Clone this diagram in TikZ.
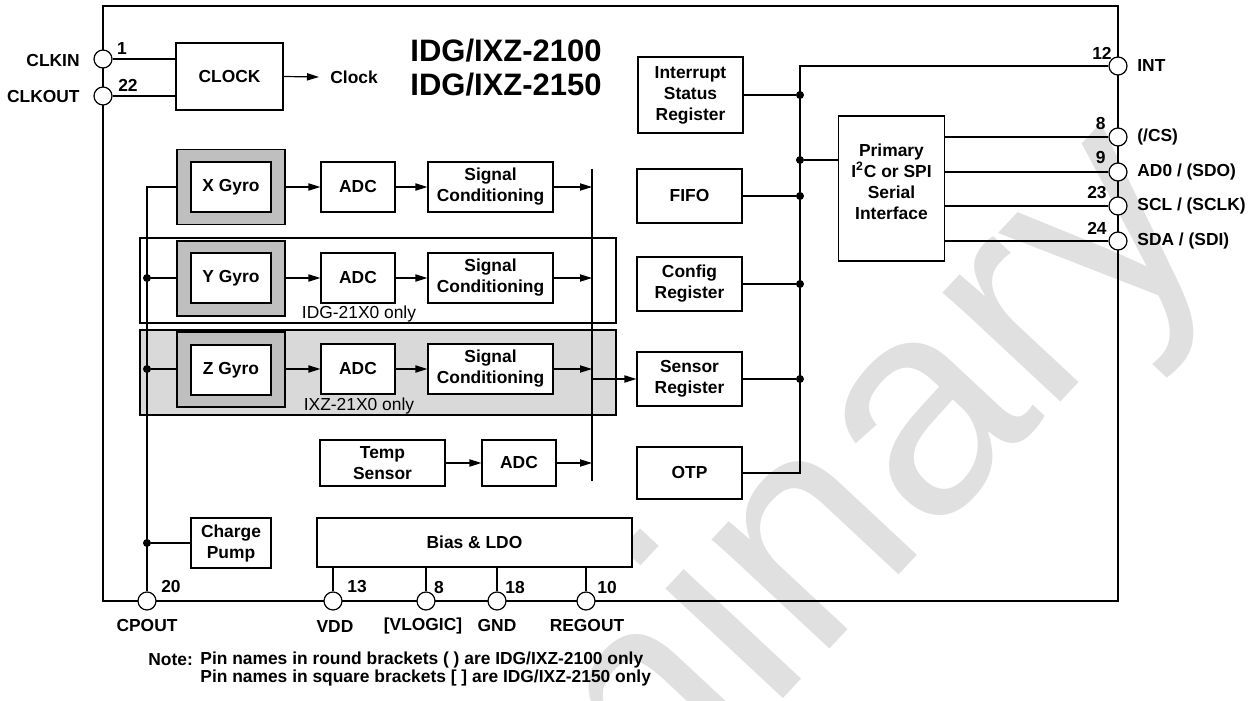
\documentclass[tikz,border=0pt]{standalone}
\usepackage{fontspec}
\setmainfont{Liberation Sans}
\usetikzlibrary{arrows.meta}
\begin{document}
\begin{tikzpicture}[x=0.5pt,y=-0.5pt,
  every node/.style={font=\fontsize{8.7}{10.5}\selectfont\bfseries, inner sep=0pt},
  ln/.style={line width=0.6pt},
  box/.style={draw, fill=white, line width=0.6pt, align=center},
  gyroout/.style={box, fill=black!25, minimum width=54pt, minimum height=37.5pt},
  gyroin/.style={box, minimum width=40pt, minimum height=25pt},
  adcbox/.style={box, minimum width=37pt, minimum height=25pt},
  scbox/.style={box, minimum width=62.5pt, minimum height=25pt},
  regbox/.style={box, minimum width=52.5pt, minimum height=27pt},
  arr/.style={ln, -{Triangle[length=6pt,width=3.6pt]}},
  pin/.style={draw, fill=white, circle, minimum size=9pt, line width=0.6pt},
  dot/.style={circle, fill=black, minimum size=4pt},
  plain/.style={font=\fontsize{8.7}{10.5}\selectfont},
]
\clip (0,0) rectangle (1254,701);
\fill[white] (0,0) rectangle (1254,701);
% watermark
\node[anchor=base west, rotate=47, text=black!12, font=\fontsize{152}{152}\selectfont] (wm) at (182,1344) {Preliminary};

% frame
\node[draw, line width=0.6pt, minimum width=507.5pt, minimum height=297.5pt] (frame) at (610.5,303.5) {};

% title
\node[align=center, font=\fontsize{15.5}{17}\selectfont\bfseries] (title) at (506,68) {IDG/IXZ-2100\\IDG/IXZ-2150};

% clock
\node[box, minimum width=53.5pt, minimum height=33.5pt] (clock) at (229.5,76.5) {CLOCK};
\node[anchor=west, inner xsep=5.5pt] (clocktxt) at (319,77) {Clock};
\draw[arr] (clock.east) -- (clocktxt.west);

% enclosures
\node[draw, line width=0.6pt, minimum width=238pt, minimum height=42.5pt] (yenc) at (378,280.5) {};
\node[draw, line width=0.6pt, fill=black!15, minimum width=238pt, minimum height=42.5pt] (zenc) at (378,372.5) {};
\node[plain] (ytxt) at (359,314) {IDG-21X0 only};
\node[plain] (ztxt) at (359,406) {IXZ-21X0 only};

% gyro rows
\node[gyroout] (xgo) at (231,187) {};
\node[gyroin] (xg) at (231,187) {X Gyro};
\node[adcbox] (xadc) at (358,187) {ADC};
\node[scbox] (xsc) at (490.5,187) {Signal\\Conditioning};

\node[gyroout] (ygo) at (231,278.5) {};
\node[gyroin] (yg) at (231,278) {Y Gyro};
\node[adcbox] (yadc) at (358,278) {ADC};
\node[scbox] (ysc) at (490.5,278) {Signal\\Conditioning};

\node[gyroout] (zgo) at (231,369.5) {};
\node[gyroin] (zg) at (231,370) {Z Gyro};
\node[adcbox] (zadc) at (358,369) {ADC};
\node[scbox] (zsc) at (490.5,369) {Signal\\Conditioning};

% temp
\node[box, minimum width=62.5pt, minimum height=23pt] (temp) at (382.5,463) {Temp\\Sensor};
\node[box, minimum width=37pt, minimum height=23pt] (tadc) at (519,463) {ADC};

% gyro bus
\coordinate (gbtop) at (592,169);
\coordinate (gbbot) at (592,481);
\draw[ln] (gbtop) -- (gbbot);

\draw[arr] (xgo.east) -- (xadc.west);
\draw[arr] (xadc.east) -- (xsc.west);
\draw[arr] (xsc.east) -- (xsc.east -| gbtop);
\draw[arr] (ygo.east |- yadc) -- (yadc.west);
\draw[arr] (yadc.east) -- (ysc.west);
\draw[arr] (ysc.east) -- (ysc.east -| gbtop);
\draw[arr] (zgo.east |- zadc) -- (zadc.west);
\draw[arr] (zadc.east) -- (zsc.west);
\draw[arr] (zsc.east) -- (zsc.east -| gbtop);
\draw[arr] (temp.east) -- (tadc.west);
\draw[arr] (tadc.east) -- (tadc.east -| gbtop);

% registers
\node[box, minimum width=52.5pt, minimum height=38pt] (intr) at (690.5,95) {Interrupt\\Status\\Register};
\node[regbox] (fifo) at (689.5,196) {FIFO};
\node[regbox] (config) at (689.5,284) {Config\\Register};
\node[regbox] (sensor) at (689.5,379) {Sensor\\Register};
\node[regbox, minimum height=26pt] (otp) at (689.5,473) {OTP};
\node[box, minimum width=53pt, minimum height=72.5pt] (prim) at (891.5,188.5) {};
\node[align=center] (primtxt) at (891.5,182) {Primary\\I\textsuperscript{2}C or SPI\\Serial\\Interface};

\coordinate (sbus) at (592,379);
\draw[arr] (sbus) -- (sensor.west);

% right pins
\node[pin] (int) at (1118,66) {};
\node[pin] (cs) at (1118,137) {};
\node[pin] (ad0) at (1118,172) {};
\node[pin] (scl) at (1118,206) {};
\node[pin] (sda) at (1118,241) {};

% right bus
\coordinate (rbtop) at (800,66);
\coordinate (rbbot) at (800,473);
\draw[ln] (int.west) -- (rbtop) -- (rbbot) -- (otp.east);
\node[dot] (d1) at (800,95) {};
\node[dot] (d2) at (800,160) {};
\node[dot] (d3) at (800,196) {};
\node[dot] (d4) at (800,284) {};
\node[dot] (d5) at (800,379) {};
\draw[ln] (intr.east) -- (d1);
\draw[ln] (d2) -- (d2 -| prim.west);
\draw[ln] (fifo.east) -- (d3);
\draw[ln] (config.east) -- (d4);
\draw[ln] (sensor.east) -- (d5);

\draw[ln] (cs.west -| prim.east) -- (cs.west);
\draw[ln] (ad0.west -| prim.east) -- (ad0.west);
\draw[ln] (scl.west -| prim.east) -- (scl.west);
\draw[ln] (sda.west -| prim.east) -- (sda.west);

\node[anchor=east] (n12) at (1112,53) {12};
\node[anchor=east] (n8r) at (1106,124) {8};
\node[anchor=east] (n9) at (1106,158) {9};
\node[anchor=east] (n23) at (1107,193) {23};
\node[anchor=east] (n24) at (1107,228) {24};
\node[anchor=west] (lint) at (1137,66) {INT};
\node[anchor=west] (lcs) at (1137,137) {(/CS)};
\node[anchor=west] (lad0) at (1137,172) {AD0 / (SDO)};
\node[anchor=west] (lscl) at (1137,206) {SCL / (SCLK)};
\node[anchor=west] (lsda) at (1137,241) {SDA / (SDI)};

% left pins
\node[pin] (clkin) at (103,59) {};
\node[pin] (clkout) at (103,96) {};
\draw[ln] (clkin.east) -- (clkin.east -| clock.west);
\draw[ln] (clkout.east) -- (clkout.east -| clock.west);
\node[anchor=east] (lclkin) at (80,61) {CLKIN};
\node[anchor=east] (lclkout) at (80,97) {CLKOUT};
\node (n1) at (122,49) {1};
\node (n22) at (128,85) {22};

% charge pump, bias
\node[box, minimum width=40pt, minimum height=25pt] (charge) at (231,543) {Charge\\Pump};
\node[box, minimum width=157.5pt, minimum height=24.5pt] (bias) at (474.5,542.5) {Bias \& LDO};

% bottom pins
\node[pin] (cpout) at (147,601) {};
\node[pin] (vdd) at (333,601) {};
\node[pin] (vlogic) at (426,601) {};
\node[pin] (gnd) at (497,601) {};
\node[pin] (regout) at (586,601) {};

% left vertical supply line
\coordinate (xcorner) at (147,187);
\draw[ln] (xgo.west) -- (xcorner) -- (cpout.north);
\node[dot] (ydot) at (147,278) {};
\node[dot] (zdot) at (147,369) {};
\node[dot] (cdot) at (147,543) {};
\draw[ln] (ydot) -- (ygo.west |- ydot);
\draw[ln] (zdot) -- (zgo.west |- zdot);
\draw[ln] (cdot) -- (charge.west);

\draw[ln] (bias.south -| vdd) -- (vdd.north);
\draw[ln] (bias.south -| vlogic) -- (vlogic.north);
\draw[ln] (bias.south -| gnd) -- (gnd.north);
\draw[ln] (bias.south -| regout) -- (regout.north);

\node (n20) at (171,587) {20};
\node (n13) at (357,587) {13};
\node (n8b) at (439,588) {8};
\node (n18) at (515,588) {18};
\node (n10) at (607,588) {10};
\node (lcpout) at (147,626) {CPOUT};
\node (lvdd) at (335,627) {VDD};
\node (lvlogic) at (423,626) {[VLOGIC]};
\node (lgnd) at (497,626) {GND};
\node (lregout) at (587,626) {REGOUT};

% note
\node[anchor=west] (note) at (148,660) {Note:};
\node[anchor=west] (note1) at (200,660) {Pin names in round brackets ( ) are IDG/IXZ-2100 only};
\node[anchor=west] (note2) at (200,678) {Pin names in square brackets [ ] are IDG/IXZ-2150 only};
\end{tikzpicture}
\end{document}
